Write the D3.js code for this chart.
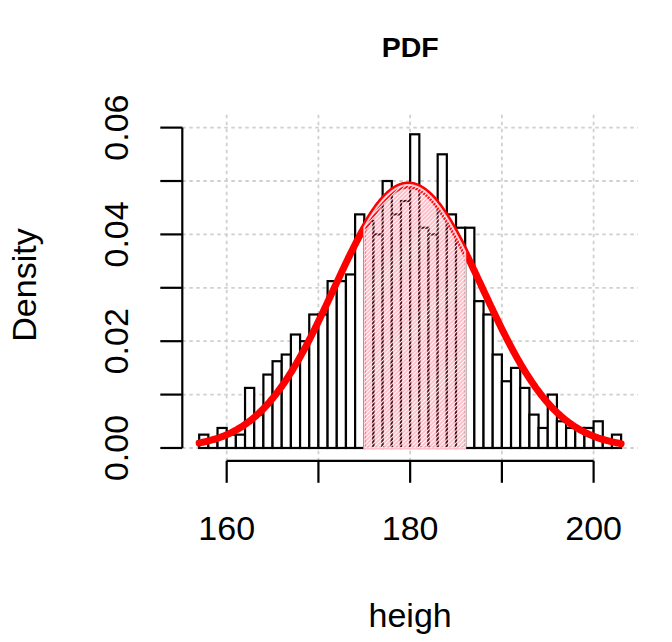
<!DOCTYPE html>
<html>
<head>
<meta charset="utf-8">
<script src="https://cdn.jsdelivr.net/npm/d3@7/dist/d3.min.js"></script>
<style>
  html, body { margin: 0; padding: 0; background: #fff; }
  svg { display: block; }
  text { font-family: "Liberation Sans", Arial, Helvetica, sans-serif; fill: #000; }
</style>
</head>
<body>
<svg id="chart" width="672" height="642"></svg>
<script>
// ---- data ----
const binLow = [157,158,159,160,161,162,163,164,165,166,167,168,169,170,171,172,173,174,
                175,176,177,178,179,180,181,182,183,184,185,
                186,187,188,189,190,191,192,193,194,195,196,197,198,199,200,201,202];
const binWidth = 1;
const density = [0.0025,0.00125,0.00375,0.0025,0.0025,0.01125,0.00625,0.01375,0.01625,0.0175,0.02125,0.02,0.025,0.025,0.03125,0.03125,0.0325,0.04375,
                 0.0425,0.04,0.05,0.04375,0.04625,0.05875,0.04125,0.04,0.055,0.04375,0.04125,
                 0.04125,0.0275,0.025,0.0175,0.0125,0.015,0.01125,0.00625,0.00375,0.01,0.005,0.00375,0.00375,0.00375,0.005,0.00125,0.0025];
const xTicks = [160, 170, 180, 190, 200];
const xLabelTicks = [160, 180, 200];
const xTickLabels = ["160", "180", "200"];
const yTicks = [0, 0.01, 0.02, 0.03, 0.04, 0.05, 0.06];
const yLabelTicks = [0, 0.02, 0.04, 0.06];
const yTickLabels = ["0.00", "0.02", "0.04", "0.06"];
const normMean = 179.8;
const normSd = 8.1;
const curveRange = [157, 203];
const shadeRange = [175, 186];
const titleText = "PDF";
const xLabel = "heigh";
const yLabel = "Density";

// ---- scales ----
const x = d3.scaleLinear().domain([155.16, 204.84]).range([182.3, 638]);
const y = d3.scaleLinear().domain([-0.0024, 0.0624]).range([460.8, 114.8]);
const dnorm = v => Math.exp(-0.5 * ((v - normMean) / normSd) ** 2) / (normSd * Math.sqrt(2 * Math.PI));

const svg = d3.select("#chart");
const defs = svg.append("defs");
const pat = defs.append("pattern")
  .attr("id", "hatch").attr("patternUnits", "userSpaceOnUse")
  .attr("width", 2.9).attr("height", 10)
  .attr("patternTransform", "rotate(45)");
pat.append("rect").attr("x", 0).attr("y", 0).attr("width", 1.1).attr("height", 10)
  .attr("fill", "#ffffff").attr("fill-opacity", 0.95);

// ---- grid ----
const [px0, px1] = x.range();
const [py0, py1] = y.range();
svg.append("g").selectAll("line").data(xTicks).join("line")
  .attr("x1", d => x(d)).attr("x2", d => x(d)).attr("y1", py1).attr("y2", py0)
  .attr("stroke", "#d0d0d0").attr("stroke-width", 1.8).attr("stroke-dasharray", "3.5,3.5");
svg.append("g").selectAll("line").data(yTicks).join("line")
  .attr("x1", px0).attr("x2", px1).attr("y1", d => y(d)).attr("y2", d => y(d))
  .attr("stroke", "#d0d0d0").attr("stroke-width", 1.8).attr("stroke-dasharray", "3.5,3.5");

// ---- histogram ----
svg.append("g").selectAll("rect").data(binLow.map((b, i) => ({b, d: density[i]}))).join("rect")
  .attr("x", d => x(d.b)).attr("width", d => x(d.b + binWidth) - x(d.b))
  .attr("y", d => y(d.d)).attr("height", d => y(0) - y(d.d))
  .attr("fill", "#fff").attr("stroke", "#000").attr("stroke-width", 2.2);

// ---- normal curve ----
const curvePts = d3.range(curveRange[0], curveRange[1] + 0.0001, 0.1).map(v => [v, dnorm(v)]);
const line = d3.line().x(d => x(d[0])).y(d => y(d[1]));
svg.append("path").datum(curvePts).attr("d", line)
  .attr("fill", "none").attr("stroke", "#ff0000").attr("stroke-width", 7)
  .attr("stroke-linecap", "round").attr("stroke-linejoin", "round");

// ---- shaded region ----
const shadePts = [[shadeRange[0], 0]]
  .concat(d3.range(shadeRange[0], shadeRange[1] + 0.0001, 0.1).map(v => [v, dnorm(v)]))
  .concat([[shadeRange[1], 0]]);
const shadePath = line(shadePts) + "Z";
svg.append("path").attr("d", shadePath)
  .attr("fill", "rgb(255,0,40)").attr("fill-opacity", 0.27)
  .attr("stroke", "#ffc0cb").attr("stroke-width", 2);
svg.append("path").attr("d", shadePath)
  .attr("fill", "url(#hatch)").attr("stroke", "none");

// ---- axes ----
const axG = svg.append("g").attr("stroke", "#000").attr("stroke-width", 2.2).attr("fill", "none");
axG.append("line").attr("x1", px0).attr("x2", px0).attr("y1", y(yTicks[0])).attr("y2", y(yTicks[yTicks.length - 1]));
axG.selectAll("line.yt").data(yTicks).join("line")
  .attr("x1", px0).attr("x2", px0 - 22).attr("y1", d => y(d)).attr("y2", d => y(d));
axG.append("line").attr("y1", py0).attr("y2", py0).attr("x1", x(xTicks[0])).attr("x2", x(xTicks[xTicks.length - 1]));
axG.selectAll("line.xt").data(xTicks).join("line")
  .attr("y1", py0).attr("y2", py0 + 22).attr("x1", d => x(d)).attr("x2", d => x(d));

svg.append("g").selectAll("text").data(yLabelTicks).join("text")
  .attr("transform", d => `translate(128,${y(d)}) rotate(-90)`)
  .attr("text-anchor", "middle").attr("font-size", 34)
  .text((d, i) => yTickLabels[i]);
svg.append("g").selectAll("text").data(xLabelTicks).join("text")
  .attr("x", d => x(d)).attr("y", 540)
  .attr("text-anchor", "middle").attr("font-size", 34)
  .text((d, i) => xTickLabels[i]);

// ---- titles ----
svg.append("text").attr("x", (px0 + px1) / 2).attr("y", 56.5)
  .attr("text-anchor", "middle").attr("font-size", 28.5).attr("font-weight", "bold").text(titleText);
svg.append("text").attr("x", (px0 + px1) / 2).attr("y", 627)
  .attr("text-anchor", "middle").attr("font-size", 34).text(xLabel);
svg.append("text").attr("transform", "translate(36,285) rotate(-90)")
  .attr("text-anchor", "middle").attr("font-size", 34).text(yLabel);
</script>
</body>
</html>
